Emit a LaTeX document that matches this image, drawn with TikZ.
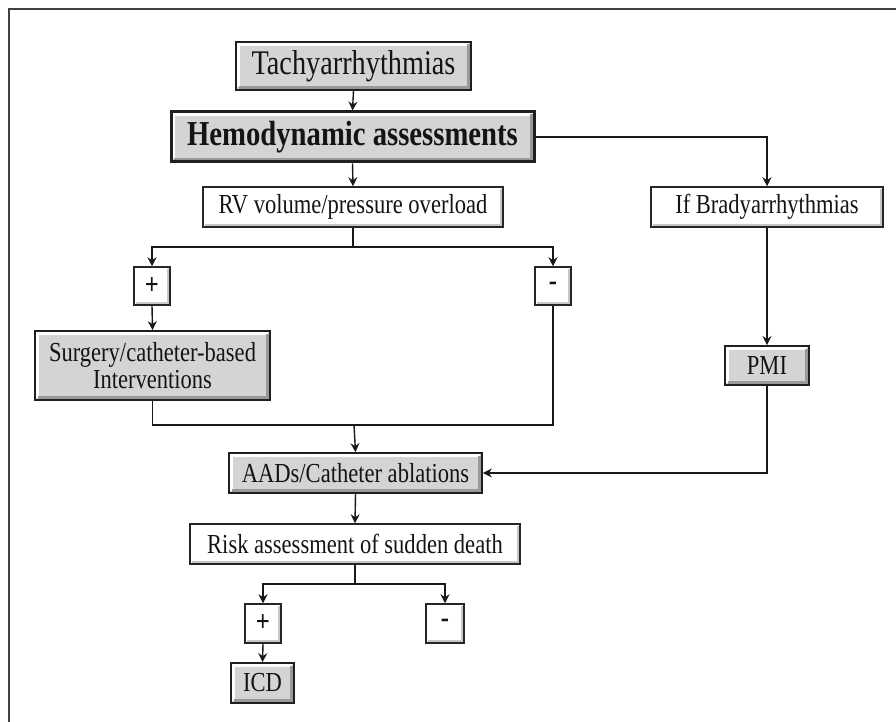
\documentclass[tikz,border=0pt]{standalone}
\usepackage{fontspec}
\setmainfont{Liberation Serif}[FakeStretch=0.82]
\usetikzlibrary{arrows.meta,calc}
\begin{document}
\begin{tikzpicture}[x=1pt,y=-1pt,
  base/.style={rectangle, inner sep=0pt, align=center, text=black!92, font=\fontsize{27.5}{27.5}\selectfont},
  graybox/.style={base, draw=black!88, line width=1.8pt, fill=black!17,
    path picture={
      \draw[white, line width=2.2pt] ([xshift=2.5pt,yshift=2.5pt]path picture bounding box.south west) |- ([xshift=-2.5pt,yshift=-2.5pt]path picture bounding box.north east);
      \draw[black!40, line width=2.2pt] ([xshift=2.5pt,yshift=2.5pt]path picture bounding box.south west) -| ([xshift=-2.5pt,yshift=-2.5pt]path picture bounding box.north east);
    }},
  whitebox/.style={base, draw=black!85, line width=1.5pt, fill=white,
    path picture={
      \draw[black!22, line width=1.6pt] ([xshift=2pt,yshift=2pt]path picture bounding box.south west) -| ([xshift=-2pt,yshift=-2pt]path picture bounding box.north east);
    }},
  sign/.style={whitebox, font=\fontsize{30}{30}\selectfont\bfseries},
  conn/.style={draw=black!90, line width=1.4pt},
  arr/.style={conn, -{Stealth[length=9pt,width=9pt,inset=3pt]}}
]
\useasboundingbox (0,0) rectangle (896,722);
% frame
\draw[black!75, line width=1.5pt] (9,740) -- (9,9) -- (910,9);

\node[graybox, minimum width=235, minimum height=48, font=\fontsize{34.5}{34.5}\selectfont] (tachy) at (353.5,66) {Tachyarrhythmias};
\node[graybox, line width=3pt, minimum width=363, minimum height=50, font=\fontsize{35}{35}\selectfont\bfseries] (hemo) at (352.5,137) {Hemodynamic assessments};
\node[whitebox, minimum width=300, minimum height=40] (rv) at (353,207) {RV volume/pressure overload};
\node[whitebox, minimum width=232, minimum height=40] (brady) at (767,207) {If Bradyarrhythmias};
\node[sign, minimum width=36, minimum height=38] (plusA) at (152,286) {+};
\node[sign, minimum width=36, minimum height=38] (minusA) at (553,286) {-};
\node[graybox, minimum width=235, minimum height=69] (surg) at (152.5,365.5) {Surgery/catheter-based\\[0pt]Interventions};
\node[graybox, minimum width=84, minimum height=39] (pmi) at (767,365.5) {PMI};
\node[graybox, minimum width=253, minimum height=40] (aads) at (355.5,473) {AADs/Catheter ablations};
\node[whitebox, minimum width=330, minimum height=40] (risk) at (355,544) {Risk assessment of sudden death};
\node[sign, minimum width=36, minimum height=39] (plusB) at (263,623.5) {+};
\node[sign, minimum width=38, minimum height=39] (minusB) at (445,623.5) {-};
\node[graybox, minimum width=63, minimum height=40] (icd) at (262.5,683) {ICD};

\coordinate (splitA) at (353,247);
\coordinate (merge) at (354,425);
\coordinate (splitB) at (355,584);

\draw[arr] (tachy.south) -- (hemo.north);
\draw[arr] (hemo.south) -- (rv.north);
\draw[arr] (hemo.east) -| (brady.north);
\draw[conn] (rv.south) -- (splitA);
\draw[arr] (splitA) -| (plusA.north);
\draw[arr] (splitA) -| (minusA.north);
\draw[arr] (plusA.south) -- (surg.north);
\draw[conn] (surg.south) |- (merge) -| (minusA.south);
\draw[arr] (merge) -- (aads.north);
\draw[arr] (brady.south) -- (pmi.north);
\draw[arr] (pmi.south) |- (aads.east);
\draw[arr] (aads.south) -- (risk.north);
\draw[conn] (risk.south) -- (splitB);
\draw[arr] (splitB) -| (plusB.north);
\draw[arr] (splitB) -| (minusB.north);
\draw[arr] (plusB.south) -- (icd.north);
\end{tikzpicture}
\end{document}
